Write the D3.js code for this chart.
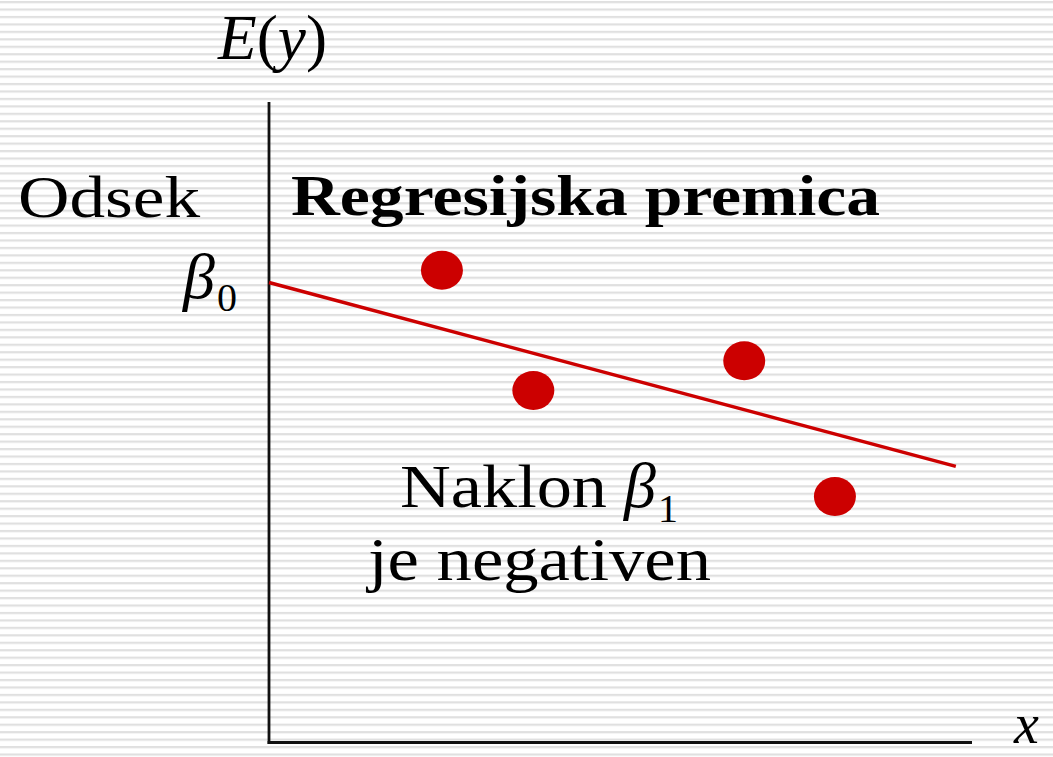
<!DOCTYPE html>
<html>
<head>
<meta charset="utf-8">
<script src="https://cdn.jsdelivr.net/npm/d3@7"></script>
<style>
  html, body { margin: 0; padding: 0; background: #fff; }
  svg text { font-family: "Liberation Serif", "DejaVu Serif", serif; fill: #000; }
</style>
</head>
<body>
<div id="drawing"></div>
<script>
const width = 1053;
const height = 757;

// data points (abstract units, axes go 0..10)
const pointX = [2.46, 3.76, 6.76, 8.05];
const pointY = [7.35, 5.48, 5.94, 3.83];
// regression line
const intercept = 7.16;
const slope = -0.293;
const lineXEnd = 9.77;

// labels
const yLabel = ["E", "(", "y", ")"];
const interceptLabel = "Odsek";
const titleLabel = "Regresijska premica";
const slopeLines = ["Naklon", "je negativen"];
const xLabel = "x";

const svg = d3.select("#drawing").append("svg")
  .attr("width", width)
  .attr("height", height);

// striped background
const defs = svg.append("defs");
const pat = defs.append("pattern")
  .attr("id", "stripes")
  .attr("patternUnits", "userSpaceOnUse")
  .attr("width", 10)
  .attr("height", 7.45)
  .attr("y", 1);
pat.append("rect").attr("width", 10).attr("height", 7.45).attr("fill", "#fff");
pat.append("rect").attr("width", 10).attr("height", 2.2).attr("fill", "#e0e0e0");

svg.append("rect")
  .attr("width", width)
  .attr("height", height)
  .attr("fill", "url(#stripes)");

const xScale = d3.scaleLinear().domain([0, 10]).range([269, 972]);
const yScale = d3.scaleLinear().domain([0, 10]).range([742.5, 100]);

// axes (plain lines, no ticks)
svg.append("line")
  .attr("x1", xScale(0)).attr("x2", xScale(0))
  .attr("y1", yScale(9.97)).attr("y2", yScale(0) + 1.5)
  .attr("stroke", "#111").attr("stroke-width", 2.8);
svg.append("line")
  .attr("x1", xScale(0) - 1.4).attr("x2", xScale(10))
  .attr("y1", yScale(0)).attr("y2", yScale(0))
  .attr("stroke", "#111").attr("stroke-width", 3);

// regression line
svg.append("line")
  .attr("x1", xScale(0)).attr("y1", yScale(intercept))
  .attr("x2", xScale(lineXEnd)).attr("y2", yScale(intercept + slope * lineXEnd))
  .attr("stroke", "#cc0000")
  .attr("stroke-width", 3.5);

// points
svg.selectAll(".pt")
  .data(pointX.map((x, i) => ({x: x, y: pointY[i]})))
  .enter()
  .append("ellipse")
    .attr("class", "pt")
    .attr("cx", d => xScale(d.x))
    .attr("cy", d => yScale(d.y))
    .attr("rx", 21)
    .attr("ry", 19.5)
    .attr("fill", "#cc0000");

// E(y) label
const ey = svg.append("text")
  .attr("x", 218).attr("y", 59)
  .attr("font-size", 64)
  .attr("textLength", 109)
  .attr("lengthAdjust", "spacingAndGlyphs");
yLabel.forEach((s, i) => {
  ey.append("tspan").attr("font-style", (i % 2 === 0) ? "italic" : "normal").text(s);
});

// Odsek
svg.append("text")
  .attr("x", 18).attr("y", 217)
  .attr("font-size", 60)
  .attr("textLength", 182)
  .attr("lengthAdjust", "spacingAndGlyphs")
  .text(interceptLabel);

// beta_0
const b0 = svg.append("text").attr("x", 183).attr("y", 298).attr("font-size", 64);
b0.append("tspan").attr("font-style", "italic").text("β");
b0.append("tspan").attr("font-size", 40).attr("dy", 13).attr("dx", 2).text("0");

// title
svg.append("text")
  .attr("x", 291).attr("y", 215)
  .attr("font-size", 58)
  .attr("font-weight", "bold")
  .attr("textLength", 589)
  .attr("lengthAdjust", "spacingAndGlyphs")
  .text(titleLabel);

// slope label
svg.append("text")
  .attr("x", 400).attr("y", 507)
  .attr("font-size", 62)
  .attr("textLength", 207)
  .attr("lengthAdjust", "spacingAndGlyphs")
  .text(slopeLines[0]);
const b1 = svg.append("text").attr("x", 624).attr("y", 507).attr("font-size", 64);
b1.append("tspan").attr("font-style", "italic").text("β");
b1.append("tspan").attr("font-size", 40).attr("dy", 15).attr("dx", 2).text("1");

svg.append("text")
  .attr("x", 368).attr("y", 580)
  .attr("font-size", 62)
  .attr("textLength", 343)
  .attr("lengthAdjust", "spacingAndGlyphs")
  .text(slopeLines[1]);

// x label
svg.append("text")
  .attr("x", 1014).attr("y", 743)
  .attr("font-size", 56)
  .attr("font-style", "italic")
  .text(xLabel);
</script>
</body>
</html>
